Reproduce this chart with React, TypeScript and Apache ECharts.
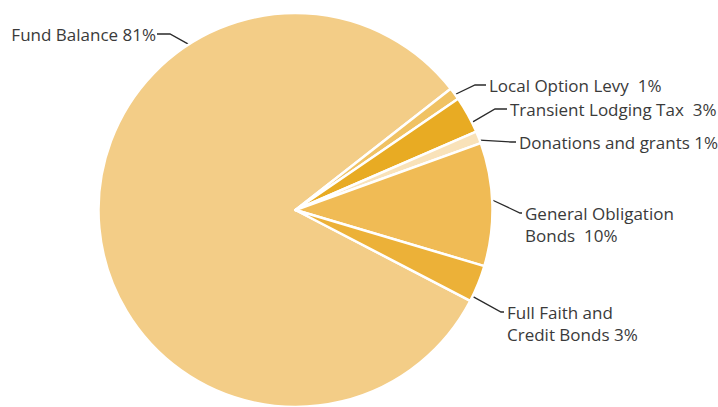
import React, { useEffect, useRef } from "react";
import * as echarts from "echarts";

// Funding sources, in percent
const categories = [
  "Fund Balance",
  "Local Option Levy",
  "Transient Lodging Tax",
  "Donations and grants",
  "General Obligation Bonds",
  "Full Faith and Credit Bonds",
];
const shares = [81, 1, 3, 1, 10, 3];
// Text placed before each share's percentage
const labelHeads = [
  "Fund Balance ",
  "Local Option Levy  ",
  "Transient Lodging Tax  ",
  "Donations and grants ",
  "General Obligation\nBonds  ",
  "Full Faith and\nCredit Bonds ",
];
const sliceColors = ["#F3CD87", "#F0C263", "#E8AB23", "#F9E2B9", "#F0BB55", "#ECB138"];

// Leader-line layout: angle on the rim where the line starts, elbow, label anchor
const CX = 295.5;
const CY = 210;
const R = 197;
const leaders = [
  { angle: 122.8, elbow: [170, 34], end: [157, 34], align: "right" },
  { angle: 35.9, elbow: [475, 85], end: [486, 85], align: "left" },
  { angle: 26.4, elbow: [495, 109], end: [507, 109], align: "left" },
  { angle: 20.8, elbow: [511, 142], end: [516, 142], align: "left" },
  { angle: 2.9, elbow: [520, 213], end: [522, 213], align: "left" },
  { angle: -26, elbow: [501, 312], end: [504, 312], align: "left" },
];
const labelOffsetY = [0, 0, 0, 0, 11, 11];

export default function App() {
  const ref = useRef<HTMLDivElement>(null);

  useEffect(() => {
    if (!ref.current) return;
    const chart = echarts.init(ref.current, undefined, { renderer: "svg" });
    chart.setOption({
      animation: false,
      backgroundColor: "#ffffff",
      series: [
        {
          type: "pie",
          center: [CX, CY],
          radius: R,
          startAngle: -27.45,
          clockwise: true,
          avoidLabelOverlap: false,
          data: categories.map((name, i) => ({
            name,
            value: shares[i],
            itemStyle: { color: sliceColors[i] },
          })),
          itemStyle: { borderColor: "#ffffff", borderWidth: 2.5 },
          label: {
            show: true,
            position: "outside",
            formatter: (p: any) => `${labelHeads[p.dataIndex]}${p.value}%`,
            fontFamily: "Open Sans",
            fontSize: 17,
            lineHeight: 22,
            color: "#3a3a3a",
          },
          labelLine: {
            show: true,
            lineStyle: { color: "#2a2a2a", width: 1.3 },
          },
          labelLayout: (params: any) => {
            const L = leaders[params.dataIndex];
            const a = (L.angle * Math.PI) / 180;
            const start = [CX + R * Math.cos(a), CY - R * Math.sin(a)];
            const gap = L.align === "right" ? -1 : 3;
            return {
              x: L.end[0] + gap,
              y: L.end[1] + labelOffsetY[params.dataIndex],
              align: L.align,
              verticalAlign: "middle",
              labelLinePoints: [start, L.elbow, L.end],
            };
          },
          emphasis: { disabled: true },
        },
      ],
    });
    return () => chart.dispose();
  }, []);

  return (
    <div
      ref={ref}
      style={{ position: "fixed", left: 0, top: 0, width: 718, height: 407 }}
    />
  );
}
